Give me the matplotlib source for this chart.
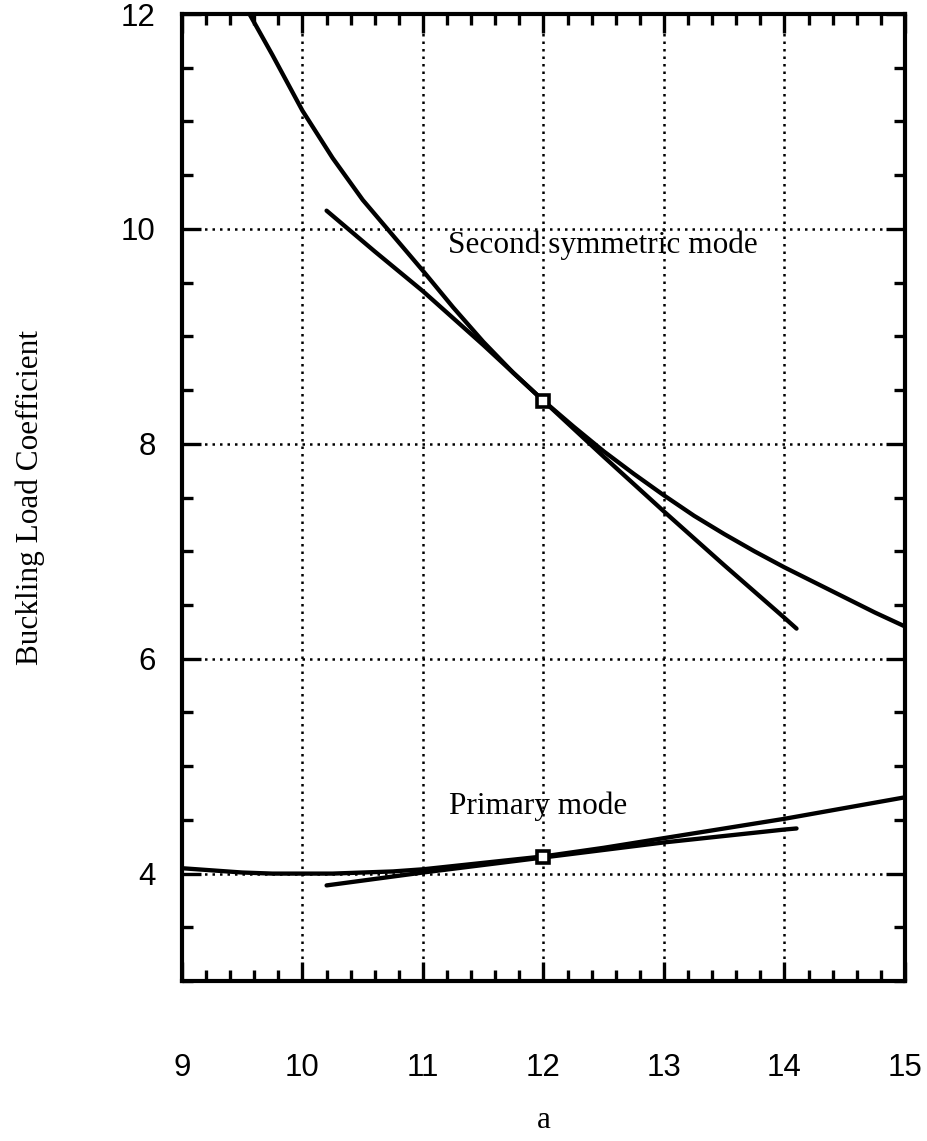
import matplotlib.pyplot as plt
from matplotlib.ticker import MultipleLocator

# Second symmetric mode: exact curve and the local approximation through a = 12
a_second = [9.56, 9.75, 10.0, 10.25, 10.5, 10.75, 11.0, 11.25, 11.5, 11.75, 12.0,
            12.25, 12.5, 12.75, 13.0, 13.25, 13.5, 13.75, 14.0, 14.25, 14.5, 14.75, 15.0]
k_second = [12.0, 11.62, 11.1, 10.66, 10.27, 9.94, 9.61, 9.27, 8.95, 8.66, 8.40,
            8.16, 7.93, 7.72, 7.52, 7.33, 7.16, 7.00, 6.85, 6.71, 6.57, 6.43, 6.30]
a_second_fit = [10.2, 10.6, 11.0, 11.5, 12.0, 12.5, 13.0, 13.5, 14.0, 14.1]
k_second_fit = [10.17, 9.79, 9.42, 8.92, 8.40, 7.88, 7.37, 6.87, 6.38, 6.28]

# Primary mode: exact curve and the local approximation through a = 12
a_primary = [9.0, 9.25, 9.5, 9.75, 10.0, 10.25, 10.5, 10.75, 11.0, 11.5, 12.0,
             12.5, 13.0, 13.5, 14.0, 14.5, 15.0]
k_primary = [4.05, 4.03, 4.01, 4.00, 4.00, 4.00, 4.01, 4.02, 4.04, 4.10, 4.16,
             4.24, 4.33, 4.42, 4.51, 4.61, 4.71]
a_primary_fit = [10.2, 11.0, 12.0, 13.0, 14.0, 14.1]
k_primary_fit = [3.89, 4.01, 4.15, 4.29, 4.41, 4.42]

# expansion points
a_ref = [12.0, 12.0]
k_ref = [8.40, 4.15]

serif = 'Liberation Serif'
sans = 'Liberation Sans'

fig = plt.figure(figsize=(9.28, 11.41), dpi=100)
ax = fig.add_axes([0.1961, 0.1402, 0.7791, 0.8475])

lw = 3.1
ax.plot(a_second, k_second, color='black', lw=lw, solid_capstyle='round')
ax.plot(a_second_fit, k_second_fit, color='black', lw=lw, solid_capstyle='round')
ax.plot(a_primary, k_primary, color='black', lw=lw, solid_capstyle='round')
ax.plot(a_primary_fit, k_primary_fit, color='black', lw=lw, solid_capstyle='round')
ax.plot(a_ref, k_ref, 's', ms=8.5, mfc='white', mec='black', mew=2.6)

ax.set_xlim(9, 15)
ax.set_ylim(3, 12)
ax.xaxis.set_major_locator(MultipleLocator(1))
ax.xaxis.set_minor_locator(MultipleLocator(0.2))
ax.yaxis.set_major_locator(MultipleLocator(2))
ax.yaxis.set_minor_locator(MultipleLocator(0.5))

ax.grid(True, which='major', color='black', linestyle=(0, (1, 2)), linewidth=1.8)

for s in ax.spines.values():
    s.set_linewidth(3.0)

ax.tick_params(which='both', direction='in', top=True, right=True, width=2.4)
ax.tick_params(which='major', length=14)
ax.tick_params(which='minor', length=8)
ax.tick_params(axis='x', which='major', pad=52, labelsize=22.5)
ax.tick_params(axis='y', which='major', pad=19, labelsize=22.5)
for lab in ax.get_xticklabels() + ax.get_yticklabels():
    lab.set_family(sans)
    lab.set_fontweight('medium')

ax.set_xlabel('a', family=serif, fontsize=22.5)
ax.xaxis.set_label_coords(0.5, -0.129)
ax.set_ylabel('Buckling Load Coefficient', family=serif, fontsize=22.5)
ax.yaxis.set_label_coords(-0.19, 0.5)

ax.text(11.21, 9.78, 'Second symmetric mode', family=serif, fontsize=22.5, va='baseline')
ax.text(11.22, 4.55, 'Primary mode', family=serif, fontsize=22.5, va='baseline')

fig.savefig('out.png', dpi=100)
